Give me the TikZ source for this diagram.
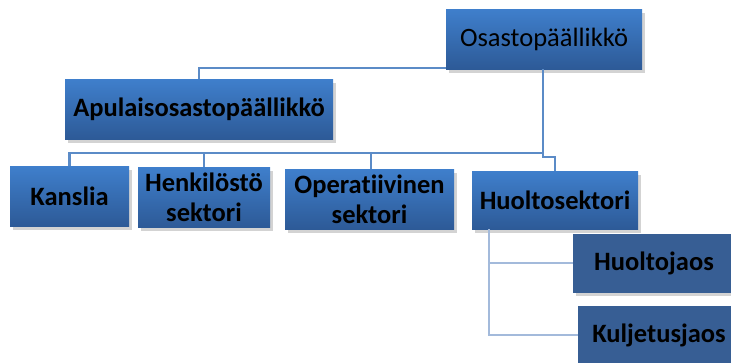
\documentclass[tikz,border=0pt]{standalone}
\usepackage{fontspec}
\setmainfont{Carlito}[Ligatures={NoCommon}]
\usetikzlibrary{shadows}
\definecolor{boxtop}{HTML}{3F7FCC}
\definecolor{boxbot}{HTML}{2D5A97}
\definecolor{flatbox}{HTML}{375E94}
\definecolor{connA}{HTML}{5B8BC7}
\definecolor{connB}{HTML}{A3BADB}
\tikzset{
  orgbox/.style={rectangle, inner sep=2pt, align=center, text=black,
    top color=boxtop, bottom color=boxbot, draw=none,
    drop shadow={opacity=0.35, shadow xshift=3pt, shadow yshift=-4pt},
    font=\fontsize{26.5}{30}\selectfont\bfseries},
  flatorg/.style={orgbox, top color=flatbox, bottom color=flatbox},
  connU/.style={draw=connA, line width=2.4pt},
  connL/.style={draw=connB, line width=2pt},
}
\begin{document}
\begin{tikzpicture}[x=1pt,y=-1pt]
\useasboundingbox (0,0) rectangle (731,362);
\clip (0,0) rectangle (731,362);
\node[orgbox, minimum width=196pt, minimum height=60pt, font=\fontsize{26.5}{30}\selectfont] (osasto) at (544,39) {Osastopäällikkö};
\node[orgbox, minimum width=268pt, minimum height=60pt] (apul) at (199,109) {Apulaisosastopäällikkö};
\node[orgbox, minimum width=119pt, minimum height=60pt] (kanslia) at (69.5,196) {Kanslia};
\node[orgbox, minimum width=132pt, minimum height=60pt] (henk) at (204,197) {Henkilöstö\\sektori};
\node[orgbox, minimum width=169pt, minimum height=60pt] (oper) at (369.5,199) {Operatiivinen\\sektori};
\node[orgbox, minimum width=166pt, minimum height=58pt] (huolto) at (555,200) {Huoltosektori};
\node[flatorg, minimum width=162pt, minimum height=58pt] (hjaos) at (654,263) {Huoltojaos};
\node[flatorg, minimum width=162pt, minimum height=58pt] (kulj) at (659,335) {Kuljetusjaos};
\draw[connU] ([yshift=1pt]osasto.south west) -| (apul.north);
\draw[connU] ([xshift=-1pt]osasto.south) -- ++(0,88) -| (huolto.north);
\draw[connU] ([xshift=-1pt]osasto.south |- 0,153) -| (kanslia.north);
\draw[connU] (henk.north |- 0,153) -- (henk.north);
\draw[connU] ([xshift=1.5pt]oper.north |- 0,153) -- ([xshift=1.5pt]oper.north);
\coordinate (hx) at ([xshift=17pt]huolto.south west);
\draw[connL] (hx) |- (kulj.west);
\draw[connL] (hx |- hjaos.west) -- (hjaos.west);
\end{tikzpicture}
\end{document}
